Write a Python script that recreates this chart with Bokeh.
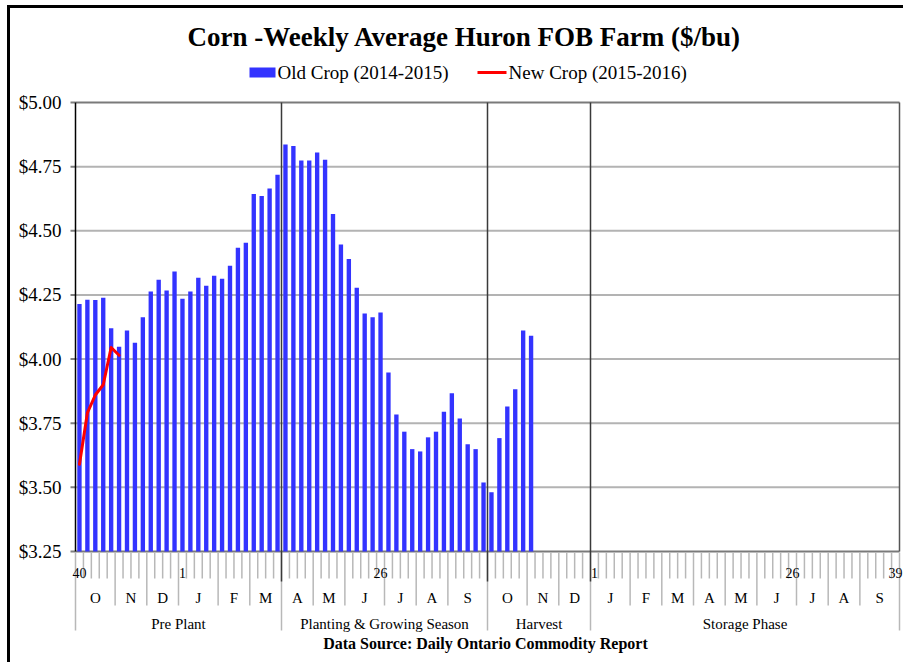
from bokeh.plotting import figure
from bokeh.models import Range1d, FixedTicker, NumeralTickFormatter, LinearAxis
from bokeh.core.properties import value
from bokeh.embed import file_html
from bokeh.resources import INLINE

# ---------------- data ----------------
week_numbers = list(range(40, 53)) + list(range(1, 53)) + list(range(1, 40))
old_crop = [4.215, 4.231, 4.230, 4.239, 4.120, 4.048, 4.111, 4.064, 4.163, 4.263,
            4.309, 4.267, 4.341, 4.235, 4.263, 4.317, 4.286, 4.325, 4.313, 4.364,
            4.434, 4.453, 4.643, 4.636, 4.665, 4.718, 4.836, 4.830, 4.774, 4.774,
            4.805, 4.777, 4.565, 4.447, 4.390, 4.278, 4.178, 4.163, 4.182, 3.948,
            3.784, 3.717, 3.649, 3.640, 3.695, 3.717, 3.795, 3.867, 3.768, 3.668,
            3.649, 3.519, 3.481, 3.692, 3.815, 3.882, 4.111, 4.091]
new_crop = [3.59, 3.79, 3.86, 3.90, 4.045, 4.015]
months = ["O", "N", "D", "J", "F", "M", "A", "M", "J", "J", "A", "S",
          "O", "N", "D", "J", "F", "M", "A", "M", "J", "J", "A", "S"]
month_weeks = [5, 4, 4, 5, 4, 4, 4, 4, 5, 4, 4, 5,
               5, 4, 4, 5, 4, 4, 4, 4, 5, 4, 4, 5]
phases = ["Pre Plant", "Planting & Growing Season", "Harvest", "Storage Phase"]
phase_weeks = [26, 26, 13, 39]
y_ticks = [3.25, 3.50, 3.75, 4.00, 4.25, 4.50, 4.75, 5.00]
labelled_weeks = [1, 26]

# ---------------- layout (page pixels) ----------------
BORDER = 3
MARGIN_L, MARGIN_T = 7, 5
OX, OY = MARGIN_L + BORDER, MARGIN_T + BORDER   # canvas origin on page
P_LEFT, P_RIGHT = 75, 899          # plot area (week axis) on page
Y_TOP_PX, Y_BOT_PX = 102, 551      # $5.00 and $3.25 on page
FR_LEFT, FR_RIGHT = 64, 906        # drawing frame on page
FR_TOP, FR_BOTTOM = OY, 665

n_weeks = len(week_numbers)
ppw = (P_RIGHT - P_LEFT) / n_weeks
x_start = -0.5 - (P_LEFT - FR_LEFT) / ppw
x_end = n_weeks - 0.5 + (FR_RIGHT - P_RIGHT) / ppw
YMIN, YMAX = y_ticks[0], y_ticks[-1]
ppu = (Y_BOT_PX - Y_TOP_PX) / (YMAX - YMIN)
y_start = YMIN - (FR_BOTTOM - Y_BOT_PX) / ppu
y_end = YMAX + (Y_TOP_PX - FR_TOP) / ppu

W = FR_RIGHT - OX
H = FR_BOTTOM - OY

SERIF = "Liberation Serif"
BLUE = "#3333ff"

p = figure(width=W, height=H, output_backend="svg", toolbar_location=None,
           x_range=Range1d(x_start, x_end), y_range=Range1d(y_start, y_end),
           min_border_left=FR_LEFT - OX, min_border_right=0,
           min_border_top=0, min_border_bottom=0,
           x_axis_location=None, y_axis_location=None)
p.extra_y_ranges = {"py": Range1d(start=FR_BOTTOM, end=FR_TOP)}
p.extra_x_ranges = {"px": Range1d(start=FR_LEFT, end=FR_RIGHT)}
p.outline_line_color = None
p.styles = {"border-left": f"{BORDER}px solid black", "border-top": f"{BORDER}px solid black",
            "margin-left": f"{MARGIN_L}px", "margin-top": f"{MARGIN_T}px"}
p.xgrid.visible = False
p.ygrid.visible = False

yax = LinearAxis(ticker=FixedTicker(ticks=y_ticks),
                 formatter=NumeralTickFormatter(format="$0.00"))
yax.axis_line_color = None
yax.major_tick_out = 0
yax.major_tick_in = 0
yax.major_tick_line_color = None
yax.minor_tick_line_color = None
yax.major_label_text_font = SERIF
yax.major_label_text_font_size = "19px"
yax.major_label_text_color = "black"
yax.major_label_standoff = 3
p.add_layout(yax, "left")

# grid lines
grid_y = y_ticks[1:-1]
p.segment(x0=[-0.5] * len(grid_y), x1=[n_weeks - 0.5] * len(grid_y), y0=grid_y, y1=grid_y,
          line_color="#b3b3b3", line_width=2)
# y tick marks
p.segment(x0=[P_LEFT - 5] * len(y_ticks), x1=[P_LEFT] * len(y_ticks), y0=y_ticks, y1=y_ticks,
          x_range_name="px", line_color="#7f7f7f", line_width=2)

# plot area borders
p.segment(x0=[-0.5, -0.5], x1=[n_weeks - 0.5, n_weeks - 0.5], y0=[YMAX, YMIN], y1=[YMAX, YMIN],
          line_color="#7a7a7a", line_width=2)
p.segment(x0=[n_weeks - 0.5], x1=[n_weeks - 0.5], y0=[YMIN], y1=[YMAX],
          line_color="#555555", line_width=1.5)
p.segment(x0=[-0.5], x1=[-0.5], y0=[YMIN], y1=[YMAX], line_color="black", line_width=1.5)

# bars and line
p.vbar(x=list(range(len(old_crop))), top=old_crop, bottom=YMIN, width=0.55,
       fill_color=BLUE, line_color=None)
p.line(x=list(range(len(new_crop))), y=new_crop, line_color="#ff0000", line_width=3,
       line_join="round", line_cap="round")

# ---------------- custom category axis ----------------
month_bounds = [0]
for w in month_weeks:
    month_bounds.append(month_bounds[-1] + w)
phase_bounds = [0]
for w in phase_weeks:
    phase_bounds.append(phase_bounds[-1] + w)

AX = Y_BOT_PX
short_x, long_x, ph_x = [], [], []
for k in range(n_weeks + 1):
    if k in phase_bounds:
        ph_x.append(k - 0.5)
    elif k in month_bounds:
        long_x.append(k - 0.5)
    else:
        short_x.append(k - 0.5)
TICK_C = "#b8b8b8"
p.segment(x0=short_x, x1=short_x, y0=[AX + 1] * len(short_x), y1=[578] * len(short_x),
          y_range_name="py", line_color=TICK_C, line_width=1.5)
p.segment(x0=long_x, x1=long_x, y0=[AX + 1] * len(long_x), y1=[605] * len(long_x),
          y_range_name="py", line_color=TICK_C, line_width=1.5)
p.segment(x0=ph_x, x1=ph_x, y0=[AX + 1] * len(ph_x), y1=[630] * len(ph_x),
          y_range_name="py", line_color=TICK_C, line_width=1.5)

# season separators inside plot
sep_x = [b - 0.5 for b in phase_bounds[1:-1]]
p.segment(x0=sep_x, x1=sep_x, y0=[Y_TOP_PX] * len(sep_x), y1=[581] * len(sep_x),
          y_range_name="py", line_color="#3a3a3a", line_width=1.5)

# week labels
wl_x, wl_t = [], []
for i, wk in enumerate(week_numbers):
    if wk in labelled_weeks or i == 0 or i == n_weeks - 1:
        wl_x.append(i)
        wl_t.append(str(wk))
p.text(x=wl_x, y=[572] * len(wl_x), text=wl_t, y_range_name="py",
       text_font=value(SERIF), text_font_size="14px", text_align="center",
       text_baseline="middle", text_color="black")

# month labels
m_x = [(month_bounds[i] + month_bounds[i + 1]) / 2 - 0.5 for i in range(len(months))]
p.text(x=m_x, y=[597] * len(m_x), text=months, y_range_name="py",
       text_font=value(SERIF), text_font_size="15px", text_align="center",
       text_baseline="middle", text_color="black")

# phase labels
ph_cx = [(phase_bounds[i] + phase_bounds[i + 1]) / 2 - 0.5 for i in range(len(phases))]
p.text(x=ph_cx, y=[623] * len(ph_cx), text=phases, y_range_name="py",
       text_font=value(SERIF), text_font_size="15px", text_align="center",
       text_baseline="middle", text_color="black")

# ---------------- title, legend, source ----------------
p.text(x=[464], y=[36], text=["Corn -Weekly Average Huron FOB Farm ($/bu)"],
       x_range_name="px", y_range_name="py", text_font=value(SERIF),
       text_font_size="27px", text_font_style="bold", text_align="center",
       text_baseline="middle", text_color="black")

p.quad(left=[249], right=[275], top=[67], bottom=[77], x_range_name="px", y_range_name="py",
       fill_color=BLUE, line_color=None)
p.text(x=[277], y=[72], text=["Old Crop (2014-2015)"], x_range_name="px", y_range_name="py",
       text_font=value(SERIF), text_font_size="19px", text_align="left",
       text_baseline="middle", text_color="black")
p.segment(x0=[477], x1=[506], y0=[72], y1=[72], x_range_name="px", y_range_name="py",
          line_color="#ff0000", line_width=3)
p.text(x=[508], y=[72], text=["New Crop (2015-2016)"], x_range_name="px", y_range_name="py",
       text_font=value(SERIF), text_font_size="19px", text_align="left",
       text_baseline="middle", text_color="black")

p.text(x=[489], y=[643], text=["Data Source: Daily Ontario  Commodity  Report"],
       x_range_name="px", y_range_name="py", text_font=value(SERIF),
       text_font_size="16px", text_font_style="bold", text_align="center",
       text_baseline="middle", text_color="black")

open("out.html", "w").write(file_html(p, INLINE))
